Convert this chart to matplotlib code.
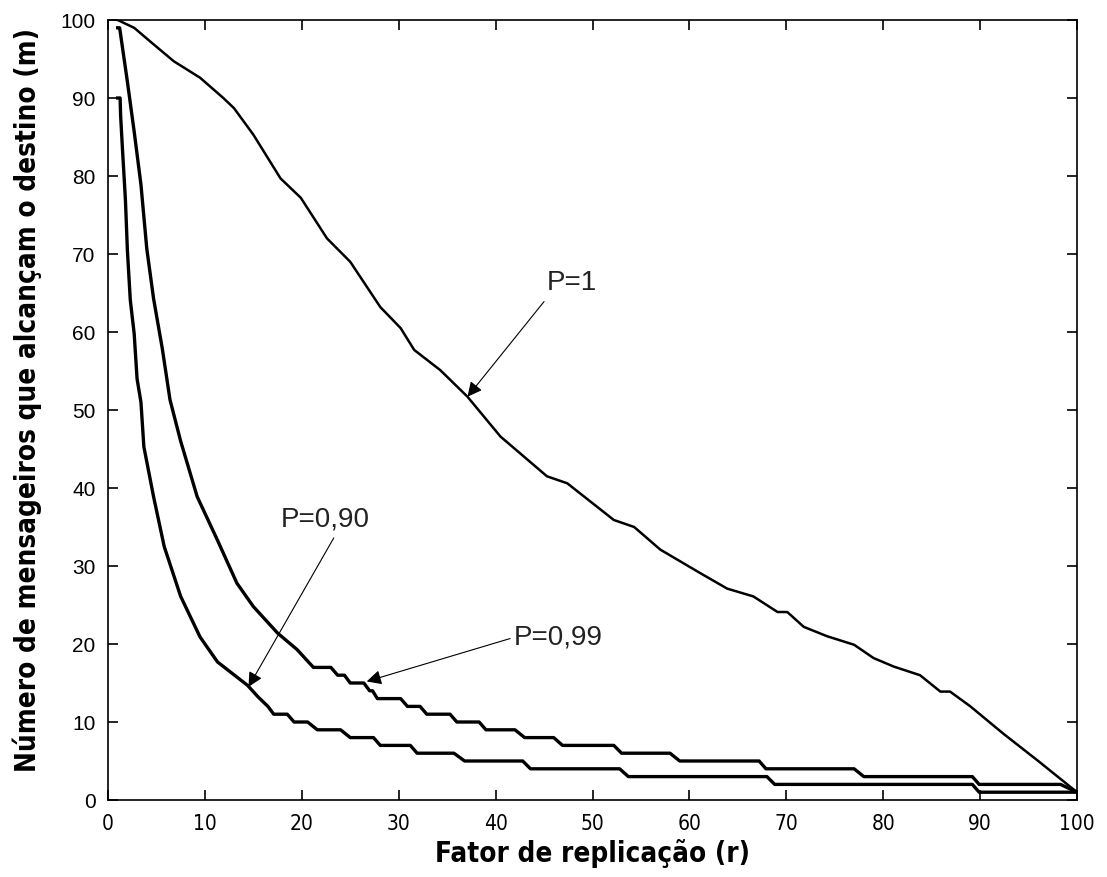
import matplotlib
matplotlib.use("Agg")
import matplotlib.pyplot as plt

# data (r = replication factor, m = messengers)
r_p100 = [1, 2.7, 4.4, 6.8, 9.5, 11.9, 13, 15, 17.8, 19.9, 22.6, 25, 28.1, 30.2,
          31.6, 34.3, 37.1, 40.5, 45.3, 47.4, 52.2, 54.3, 57, 61.1, 63.9, 66.6,
          69.1, 70.1, 71.8, 74.2, 77, 79, 81.1, 83.8, 85.9, 86.9, 89, 92.4, 95.9,
          98, 100]
m_p100 = [100, 99, 97.2, 94.7, 92.6, 90, 88.7, 85.3, 79.7, 77.2, 72, 69, 63.2, 60.5,
          57.7, 55.1, 51.7, 46.6, 41.5, 40.6, 35.9, 35, 32.1, 29.1, 27.1, 26.1,
          24.1, 24.1, 22.2, 21, 19.9, 18.2, 17.1, 16, 13.9, 13.9, 12, 8.5, 5.1,
          3, 1]

r_p99 = [1, 1.2, 2.0, 2.7, 3.4, 4.0, 4.7, 5.6, 6.4, 7.5, 9.2, 11.3, 13.3, 15, 17.5,
         19.5, 21.2, 23, 23.7, 24.4, 25, 26.4, 27, 27.3, 27.8, 30.2, 30.9, 32.2,
         32.9, 35.3, 36, 38.3, 39, 42, 43, 46, 46.9, 52.2, 53, 58, 59, 67.2, 67.9,
         77, 78, 89.2, 89.9, 98.3, 100]
m_p99 = [99, 99, 92.1, 85.7, 78.9, 70.7, 64.3, 57.9, 51.3, 46, 38.9, 33.3, 27.8, 24.8,
         21.4, 19.3, 17, 17, 16, 16, 15, 15, 14, 14, 13, 13, 12, 12,
         11, 11, 10, 10, 9, 9, 8, 8, 7, 7, 6, 6, 5, 5, 4,
         4, 3, 3, 2, 2, 1]

r_p90 = [1, 1.25, 1.3, 1.5, 1.8, 2.0, 2.3, 2.7, 3.0, 3.4, 3.7, 4.7, 5.8, 7.5, 9.5,
         11.3, 14.4, 15.5, 16.5, 17.1, 18.5, 19.2, 20.6, 21.6, 24.0, 25.0, 27.4,
         28.1, 31.2, 31.9, 35.7, 36.8, 42.8, 43.6, 52.8, 53.7, 68.0, 68.8, 89.2,
         89.9, 100]
m_p90 = [90, 90, 87.8, 83.3, 76.9, 70.5, 64.1, 59.8, 54, 51, 45.3, 38.9, 32.5, 26.1, 20.9,
         17.7, 14.7, 13.2, 12, 11, 11, 10, 10, 9, 9, 8, 8,
         7, 7, 6, 6, 5, 5, 4, 4, 3, 3, 2, 2,
         1, 1]

x_ticks = list(range(0, 101, 10))
y_ticks = list(range(0, 101, 10))

wide = ["Liberation Sans", "DejaVu Sans"]

fig = plt.figure(figsize=(11.07, 8.77), dpi=100)
ax = fig.add_axes([108 / 1107, 1 - 800 / 877, (1077 - 108) / 1107, (800 - 20) / 877])

ax.plot(r_p100, m_p100, color="black", lw=1.8)
ax.plot(r_p99, m_p99, color="black", lw=2.4)
ax.plot(r_p90, m_p90, color="black", lw=2.4)

ax.set_xlim(0, 100)
ax.set_ylim(0, 100)
ax.set_xticks(x_ticks)
ax.set_yticks(y_ticks)
ax.tick_params(direction="in", top=True, right=True, length=7, width=1.2)
ax.tick_params(axis="x", pad=10)
ax.tick_params(axis="y", pad=9)
for lab in ax.get_xticklabels():
    lab.set_family("DejaVu Sans")
    lab.set_stretch("condensed")
    lab.set_fontsize(15)
for lab in ax.get_yticklabels():
    lab.set_family(wide)
    lab.set_fontsize(15)
for s in ax.spines.values():
    s.set_linewidth(1.2)

ax.set_xlabel("Fator de replicação (r)", family="DejaVu Sans", fontstretch="condensed",
              fontweight="bold", fontsize=20, labelpad=4)
ax.set_ylabel("Número de mensageiros que alcançam o destino (m)", family="DejaVu Sans",
              fontstretch="condensed", fontweight="bold", fontsize=20)
ax.yaxis.set_label_coords(-0.068, 0.513)

arrow = dict(arrowstyle="-|>", color="black", lw=0.8, mutation_scale=22,
             shrinkA=0, shrinkB=0)

ax.text(45.3, 66.3, "P=1", fontsize=20, family=wide, va="center", ha="left",
        color="#222222")
ax.annotate("", xy=(37.1, 51.7), xytext=(45.0, 63.9), arrowprops=arrow)

ax.text(17.8, 36.0, "P=0,90", fontsize=20, family=wide, va="center", ha="left",
        color="#222222")
ax.annotate("", xy=(14.5, 14.5), xytext=(23.3, 33.6), arrowprops=arrow)

ax.text(41.9, 20.8, "P=0,99", fontsize=20, family=wide, va="center", ha="left",
        color="#222222")
ax.annotate("", xy=(26.7, 15.2), xytext=(41.5, 20.7), arrowprops=arrow)

fig.savefig("out.png", dpi=100)
